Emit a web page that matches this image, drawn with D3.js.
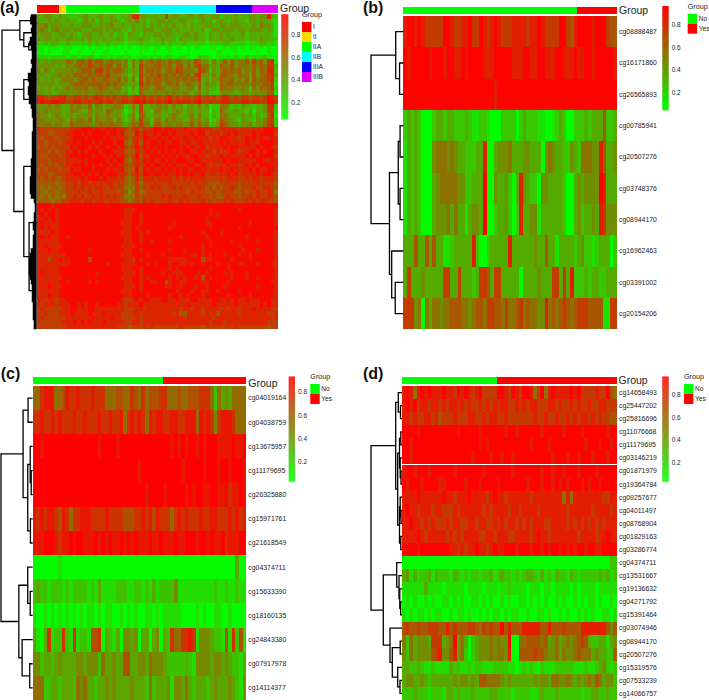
<!DOCTYPE html>
<html>
<head>
<meta charset="utf-8">
<script src="https://cdn.jsdelivr.net/npm/d3@7"></script>
<style>
  html, body { margin: 0; padding: 0; background: #fff; }
  text { font-family: "Liberation Sans", Arial, sans-serif; fill: #222; }
</style>
</head>
<body>
<div id="chart"></div>
<script>
////////////////////////////////////////////////////////////////////////
// Data
//
// Heatmap rows: one char per column, 0 = lowest methylation, 9 = highest.
// A char c stands for the beta value c/10 + 0.05. Spaces are only there
// to make the columns easier to count.

let rowsA = [
  "33443343322 33433343343 23347844334 33734433443 44334423334 33344344832",
  "43343433433 23434243344 32343534233 44343344332 34342343234 33244343321",
  "44534443343 34443343453 34334334243 43434334243 33443344344 43334354431",
  "45434534434 43334443434 43324334443 34443433343 34234434443 44344443431",
  "34443344343 23443343342 33243324334 43443334434 33243343433 34233333321",
  "43443433443 34343334333 43233343323 34333243334 33243343343 33233343332",
  "22323322322 22232322322 22122232222 23232223222 22122223322 22122233221",
  "11011101110 01010110101 01010011101 10110110101 10011001011 01011010100",
  "01010001100 10001001100 00100010001 00010000100 00000110001 00000100100",
  "22212222122 12232122121 22121112121 21221122101 32210111212 11312123111",
  "43434444654 66575664565 54525364565 65465654547 64425346464 55647564781",
  "44444343545 65576565664 64525375556 65564664646 75534365564 55546565773",
  "53543444454 56665775656 65434374665 64565765554 76524356565 64546465882",
  "44334454546 65565665755 54424375565 75656565647 84435366554 65536456783",
  "43434345554 56656556655 64535274656 65655656565 73424465564 54636566782",
  "44444344456 66566665656 55434385656 64565645654 63534365665 55546556671",
  "34343434545 55645565545 53324265545 65445544553 63433265554 45425465672",
  "44343344444 54544554454 43423264445 44545445434 53422244443 34434444661",
  "88767788667 76767876767 67767878676 76786767767 86767678767 67767767987",
  "89889988778 87787787886 78878989787 87897888878 97787788877 78878877998",
  "44454543354 54463543445 54235373344 54535342443 53412255423 24332334782",
  "54544443355 43354443654 43124374325 53434543443 43303264334 33241334772",
  "54434543443 44453544544 43235265334 43345433453 53313255433 34342423681",
  "55444454354 55463544553 53235374425 53545443354 53412365443 24332435772",
  "55554554465 55554565565 54346575536 64554554464 64523476544 34453445782",
  "87777777788 89998988989 88767868789 98998889888 98887788888 78878889998",
  "77766777889 98989999899 89666979889 89989888898 99788878989 88889899997",
  "76777677789 99899998988 88767879988 98898989889 88878899888 78989898898",
  "77677767889 89998989998 99657869899 89889988988 98888898988 88988899998",
  "67676777798 99989899899 89767979898 99899989898 89788889899 88888989987",
  "77767677889 89899989998 88666878989 89898989988 98887878898 78899898998",
  "76677767899 99998998989 89767968899 98989898899 88788898988 88989899997",
  "77767777888 89899999898 99657879898 89898999889 98888889899 88888998898",
  "76767677889 99898989989 88767878989 98989888998 89878788988 78989899988",
  "67677767798 89998999898 89666969898 89898989889 98888898898 88898988998",
  "77766777889 98989898999 88767879989 98988989898 89788788989 78888989987",
  "76767667888 89899989888 78656868887 88887878788 88777787888 77878878887",
  "66666566778 78878787887 77656757778 77787777878 77766677777 67777877776",
  "65656656778 78787887787 77555767787 87778787777 87676767787 67778778876",
  "66566566777 87787787777 67646756777 77777777687 77667677776 67677877875",
  "65656565778 78778787878 77555767777 78787778777 87767667877 67787877876",
  "66665667788 87887887787 76656768787 77787787877 78776778787 77878788776",
  "99998999999 99999999999 99999999999 99999999999 99999999999 99999999999",
  "98989899999 99999999999 99888999999 99999999999 99989999999 89999999998",
  "89899899999 99999999999 99889989999 99999999999 99989899999 99999999998",
  "88989899999 99999999999 99889989999 99999999999 99899999999 99999999998",
  "89888899999 99999999999 98889989999 99998999999 99889999999 99989999998",
  "89898899999 99999999999 99889899999 99989999999 99989999999 89999999999",
  "88889899999 99999999999 98889989899 99999999999 98999989999 99999999998",
  "89898899899 99999999999 99889989999 99999989999 99899999999 99899999998",
  "88888899999 99999999999 99889989989 99989999999 99989999989 99999899998",
  "88988889999 99999999999 98888999999 99999999999 98989999999 89999999998",
  "88898899999 99989999999 99889989999 99989998999 98999999999 98999899998",
  "88888888999 99999999999 98889999899 98999999988 98989998999 89989999998",
  "88868898899 99969999999 99887989999 99988888999 96889999989 99989999998",
  "88888888899 99999999899 98888999898 99989988989 98999899899 88999899988",
  "88888899999 99999999999 98889989999 99989899999 99989999899 99999999998",
  "89888899999 99999899999 99888989999 98998889999 89899998989 99899999998",
  "88888889999 99999999999 98889989899 99989898998 96989999989 99899899998",
  "88888899899 99989899999 99889989988 99689988999 98899999899 99999999988",
  "88898889999 99999999999 99888989999 99889989998 99899998999 99999899998",
  "88888899999 99999999999 98889989999 99999899989 98899899999 89999999998",
  "88898899999 99999999999 99889999899 99989989899 98999999899 99989999998",
  "88788788999 99999999999 98778989988 89988988899 88889988989 88988899988",
  "87888788899 89899899999 88788898888 88888888988 88889888889 88888898988",
  "78777778899 88899888888 88777887888 88888878878 87888878788 78889888877",
  "77877788898 88898889888 87778878888 88887866888 87878688888 78888888778",
  "78777777888 88889888898 87777878888 88888887888 88887888888 88888888878",
  "77777778889 89898889888 88778878888 88888888888 88878887888 88888888777",
  "77777777888 88888888888 77767778787 77777787777 76777777878 77777777677"
];

let rowsB = [
  "8998987777 7998778897 7987898777 8888788987 7779976899 998999766",
  "9899999899 9899889899 9988899999 8889988998 8899888988 998999998",
  "9999999999 9999999999 9999989999 9999999999 9999999999 999999999",
  "2323200023 3233222321 1221000222 2023222110 0123200222 323336223",
  "1323200045 5545433222 3380034445 3334433304 5433224325 554486334",
  "1323200034 5555544223 3390043342 0384322044 3333200343 444498333",
  "1323200034 4453533134 4390023342 0283344133 3333200342 334387444",
  "3336336363 3112333338 2002333338 3333334336 3313333234 221233302",
  "3733343333 3773373332 3776377333 3303333433 3773738222 323322333",
  "7774505355 4556665545 6657766575 5675655448 5656765677 766661177"
];

let rowsC = [
  "5578885568 7787778777 5556655765 7566677555 6556667775 253435555",
  "7787787877 7877877787 7877857878 7587887788 7788858787 478887555",
  "9989999999 9999999989 9998999999 9999999989 8989989899 988889889",
  "9999999999 9999999999 9999999998 9999999999 9899999899 989989998",
  "9999999999 9999999999 9999999999 9899998999 9989899889 988978898",
  "8787887687 5778887777 8777766677 8786877757 8787778778 877787878",
  "8889998788 9899888989 8988989898 8898898889 8899989989 889788899",
  "0000000100 0000000000 0000000000 0000000000 0000000000 000000300",
  "2322122212 1222212131 1112221122 1213122224 1111111111 211211211",
  "1001010101 0101011010 1100101010 0110101111 1000010100 110010000",
  "3103712272 1712216670 3213044340 3303403275 5778714443 221617261",
  "4423323433 3344344425 3343366334 4354443222 2232144443 443432213",
  "5552233233 3254533233 4343333433 3252333414 4353233323 433343214"
];

let rowsD = [
  "8985898988 8988798987 8977779987 9879985795 8988889897 777877965",
  "8989788788 7878878787 7878787887 7878788777 8878778787 787788777",
  "8878778878 6777877788 7787887787 7777778778 7787787878 878787766",
  "9999899999 9999989999 9899999989 9899999989 9999899998 999999899",
  "9989999999 9999999999 9898999999 9999989999 8999999999 899989989",
  "9989999999 9999999998 9999899899 8999999999 9899989989 998999899",
  "8998999899 9999899999 9989999999 8999999989 9899899989 999899999",
  "9899989999 8899999899 9899998999 9999899989 9898989998 989989999",
  "8888988888 8988788898 8887898878 8888878888 8888585888 888887788",
  "8988788878 8777878888 8878788887 8878888788 8888878888 887888878",
  "8898878787 7787887788 7887787878 8787878887 7888878787 878787888",
  "8888987888 8878787888 8778878887 7888878988 7888888878 888788988",
  "9999899999 9998878788 9887898899 9899989989 8998989899 899889999",
  "0000000000 0000000000 0000000000 0000000000 0000000000 000000022",
  "3413122313 2221321212 2122312322 1212332131 2132213212 222232312",
  "1111113111 1011111011 1101110112 1111011101 1011110101 111011111",
  "0101001010 0110101001 1010100101 0011010101 0010100101 011010010",
  "1010110101 1001011010 0101011010 1100100110 1001010010 101001101",
  "6766766777 6686766677 6576766968 6668888866 8666766668 888888646",
  "5253444377 7345935302 3444545449 0055666656 3453454567 632233134",
  "4253444467 8446835202 3444545548 0066667665 4453544565 553433226",
  "3322321121 1113221121 2211122221 1012121021 1122222111 211234212",
  "3443343233 3333434434 3665555434 3333334344 3554454343 454653442",
  "2223222122 2133232223 2222332222 1222211232 2232222221 223322322"
];

// row labels
let labelsB = ["cg08888487","cg16171860","cg26565893","cg00785941","cg20507276",
  "cg03748376","cg08944170","cg16962463","cg03391002","cg20154206"];
let labelsC = ["cg04019164","cg04038759","cg13675957","cg11179695","cg26325880",
  "cg15971761","cg21618549","cg04374711","cg15633390","cg18160135",
  "cg24843380","cg07917978","cg14114377"];
let labelsD = ["cg14658493","cg25447202","cg25816696","cg11076668","cg11179695",
  "cg03146219","cg01871979","cg19364784","cg09257677","cg04011497",
  "cg08768904","cg01829163","cg03286774","cg04374711","cg13531667",
  "cg19136632","cg04271792","cg15391464","cg03074946","cg08944170",
  "cg20507276","cg15319576","cg07533239","cg14066757"];

// column annotation: group names, and how many columns each one spans
let stageNames = ["I","II","IIA","IIB","IIIA","IIIB"];
let stageColors = ["#ff0000","#ffd700","#00ff00","#00ffff","#0000ff","#e000ff"];
let stageCounts = [6,2,20,21,10,7];

let yesNoNames = ["No","Yes"];
let yesNoColors = ["#00ff00","#ff0000"];
let yesNoCountsB = [48,11];
let yesNoCountsC = [36,23];
let yesNoCountsD = [26,33];

// colour bar ticks
let barTicks = [0.2,0.4,0.6,0.8];

// Dendrograms: [merge height, left, right]; a bare number is a leaf (row index).
let treeA = [35,
  [17, [6,0.2,1.6], [13,3.6,[8,6,7.4]]],
  [23,
    [13,14,18.4],
    [13, 33.3, [7.7,45.8,60.9]]]];
let treeB = [32,
  [7.5, 0, [3.7,1,2]],
  [13.7, [5,[3.2,3,4],[3.2,5,6]], [11.5,7,[8,8,9]]]];
let treeC = [32,
  [9.7, [4.7,0,1], [5,[2.5,2,[1.5,3,4]],[2.3,5,6]]],
  [14, [5,7,[2.5,8,9]], [10.7,10,[3,11,12]]]];
let treeD = [31,
  [6.3,
    [3.7,0,[1.5,1,2]],
    [4.3,
      [2.5,[1.2,3,4],[1.8,5,[1,6,7]]],
      [2.5,[1.8,8,[1,9,10]],[1.2,11,12]]]],
  [18.7,
    [5.3,13,[3,14,[2.2,15,[1.3,16,17]]]],
    [12,18,[9.7,[1.8,19,20],[4.3,21,[2,22,23]]]]]];

// Panel (a) has far too many merges close to the heatmap to list. This is the
// depth of that solid black band, one value per heatmap row.
let denseDepthA = [5,6,6,5,6,5,7,8,6,5,5,6,5,6,9,9,8,9,9,8,8,6,5,5,4,4,4,5,5,5,
  5,5,5,6,6,6,6,7,7,7,7,6,3,2,2,3,3,4,4,3,4,4,4,6,7,8,8,8,8,7,6,5,5,5,5,4,4,4,4,3];


////////////////////////////////////////////////////////////////////////
// Global variables for the svg

let width = 709;
let height = 700;

let svg = d3.select("#chart")
  .append("svg")
  .attr("width", width).attr("height", height)
  .style("display", "block");

// expand the counts into one group name per column
function expandGroups(names, counts) {
  let out = [];
  names.forEach(function(n, i) {
    d3.range(counts[i]).forEach(function() { out.push(n); });
  });
  return out;
}

// turn "8 9 7" style strings into rows of beta values
function parseRows(rows) {
  return rows.map(function(r) {
    return r.replace(/ /g, "").split("").map(function(c) { return +c / 10 + 0.05; });
  });
}


////////////////////////////////////////////////////////////////////////
// One heatmap panel

function drawPanel(p) {
  let g = svg.append("g");
  let matrix = parseRows(p.rows);
  let nCols = matrix[0].length;

  let xScale = d3.scaleBand().domain(d3.range(nCols)).range([p.left, p.right]);
  let yScale = d3.scaleBand().domain(d3.range(matrix.length)).range([p.top, p.bottom]);
  // continuous version, the dendrogram leaves can sit between two rows
  let yRow = d3.scaleLinear().domain([0, matrix.length]).range([p.top, p.bottom]);

  let colormap = d3.scaleLinear()
    .domain(p.barDomain)
    .range(["#00ff00", "#ff0000"])
    .interpolate(d3.interpolateRgb)
    .clamp(true);

  // heatmap cells
  g.append("g").selectAll("g")
    .data(matrix)
    .enter()
    .append("g")
    .attr("transform", function(d, i) { return "translate(0," + yScale(i) + ")"; })
    .selectAll("rect")
    .data(function(d) { return d; })
    .enter()
    .append("rect")
    .attr("x", function(d, i) { return xScale(i); })
    .attr("width", xScale.bandwidth())
    .attr("height", yScale.bandwidth())
    .attr("fill", function(d) { return colormap(d); })
    .attr("shape-rendering", "crispEdges");

  // annotation bar on top
  let groups = expandGroups(p.groupNames, p.groupCounts);
  let groupColor = d3.scaleOrdinal(p.groupNames, p.groupColors);
  g.append("g").selectAll("rect")
    .data(groups)
    .enter()
    .append("rect")
    .attr("x", function(d, i) { return xScale(i); })
    .attr("y", p.annTop)
    .attr("width", xScale.bandwidth())
    .attr("height", p.annBottom - p.annTop)
    .attr("fill", function(d) { return groupColor(d); })
    .attr("shape-rendering", "crispEdges");

  g.append("text")
    .attr("x", p.right + p.groupDx)
    .attr("y", p.groupY)
    .style("font-size", "10.5px")
    .text("Group");

  // row labels
  if (p.labels) {
    g.append("g").selectAll("text")
      .data(p.labels)
      .enter()
      .append("text")
      .attr("x", p.right + 2)
      .attr("y", function(d, i) { return yScale(i) + yScale.bandwidth() / 2; })
      .attr("dy", "0.35em")
      .style("font-size", "6.9px")
      .text(function(d) { return d; });
  }

  // dendrogram
  let hScale = d3.scaleLinear().domain([0, p.tree[0]]).range([p.left, p.rootX]);
  let root = d3.hierarchy(p.tree, function(d) {
    return Array.isArray(d) ? d.slice(1) : null;
  });
  root.eachAfter(function(n) {
    if (n.children) {
      n.py = d3.mean(n.children, function(c) { return c.py; });
      n.px = hScale(n.data[0]);
    } else {
      n.py = yRow(n.data + 0.5);
      n.px = p.left;
    }
  });
  let dendro = g.append("g");
  dendro.selectAll("path")
    .data(root.descendants().filter(function(n) { return n.children; }))
    .enter()
    .append("path")
    .attr("fill", "none")
    .attr("stroke", "#000")
    .attr("stroke-width", 1.3)
    .attr("d", function(n) {
      let a = n.children[0], b = n.children[1];
      return "M" + a.px + "," + a.py + "H" + n.px + "V" + b.py + "H" + b.px;
    });

  // solid band of close merges (panel a only)
  if (p.dense) {
    let area = d3.area()
      .y(function(d, i) { return yRow(i); })
      .x0(p.left)
      .x1(function(d) { return hScale(d); })
      .curve(d3.curveStepAfter);
    dendro.append("path")
      .attr("fill", "#000")
      .attr("d", area(p.dense.concat([p.dense[p.dense.length - 1]])));
  }

  // colour bar
  let barY = d3.scaleLinear()
    .domain([p.barDomain[1], p.barDomain[0]])
    .range([p.barTop, p.barBottom]);
  let barSteps = d3.range(p.barTop, p.barBottom, 1);
  g.append("g").selectAll("rect")
    .data(barSteps)
    .enter()
    .append("rect")
    .attr("x", p.barX)
    .attr("y", function(d) { return d; })
    .attr("width", p.barW)
    .attr("height", 1.2)
    .attr("fill", function(d) { return colormap(barY.invert(d + 0.5)); });

  let barAxis = d3.axisRight(barY).tickValues(barTicks).tickSize(0).tickPadding(3)
    .tickFormat(d3.format(".1f"));
  let axisG = g.append("g")
    .attr("transform", "translate(" + (p.barX + p.barW) + ",0)")
    .call(barAxis);
  axisG.select(".domain").remove();
  axisG.selectAll("text")
    .style("font-size", "6.5px")
    .style("font-family", '"Liberation Sans", Arial, sans-serif')
    .attr("fill", "#222");

  // legend
  let legend = g.append("g");
  legend.append("text")
    .attr("x", p.legendX)
    .attr("y", p.legendY - 5)
    .style("font-size", "7.2px")
    .text("Group");
  let swatch = d3.scaleBand().domain(p.groupNames)
    .range([p.legendY, p.legendY + 10 * p.groupNames.length]);
  legend.selectAll("rect")
    .data(p.groupNames)
    .enter()
    .append("rect")
    .attr("x", p.legendX)
    .attr("y", function(d) { return swatch(d); })
    .attr("width", 9.4)
    .attr("height", swatch.bandwidth())
    .attr("fill", function(d) { return groupColor(d); });
  legend.selectAll(".lab")
    .data(p.groupNames)
    .enter()
    .append("text")
    .attr("class", "lab")
    .attr("x", p.legendX + 11)
    .attr("y", function(d) { return swatch(d) + swatch.bandwidth() / 2; })
    .attr("dy", "0.35em")
    .style("font-size", "6.6px")
    .text(function(d) { return d; });

  // panel letter
  g.append("text")
    .attr("x", p.letterX)
    .attr("y", p.letterY)
    .style("font-size", "16px")
    .style("font-weight", "bold")
    .style("fill", "#111")
    .text(p.letter);
}


////////////////////////////////////////////////////////////////////////
// The four panels

drawPanel({
  letter: "(a)", letterX: 0, letterY: 12.7,
  rows: rowsA, tree: treeA, dense: denseDepthA,
  groupNames: stageNames, groupColors: stageColors, groupCounts: stageCounts,
  left: 36.7, right: 278, top: 14.3, bottom: 329.3, rootX: 2,
  annTop: 5.3, annBottom: 12.7, groupDx: 2, groupY: 11.8,
  barX: 281.3, barW: 7, barTop: 14.3, barBottom: 119, barDomain: [0.05, 0.98],
  legendX: 302, legendY: 22
});

drawPanel({
  letter: "(b)", letterX: 363, letterY: 13.3,
  rows: rowsB, tree: treeB, labels: labelsB,
  groupNames: yesNoNames, groupColors: yesNoColors, groupCounts: yesNoCountsB,
  left: 403.3, right: 617, top: 16, bottom: 329.3, rootX: 371,
  annTop: 6.7, annBottom: 14.3, groupDx: 2, groupY: 13.5,
  barX: 662.3, barW: 6.4, barTop: 6, barBottom: 110, barDomain: [0.048, 0.96],
  legendX: 687.7, legendY: 13.7
});

drawPanel({
  letter: "(c)", letterX: 0.7, letterY: 379,
  rows: rowsC, tree: treeC, labels: labelsC,
  groupNames: yesNoNames, groupColors: yesNoColors, groupCounts: yesNoCountsC,
  left: 32.7, right: 246.3, top: 386, bottom: 700, rootX: 1,
  annTop: 377.3, annBottom: 384.3, groupDx: 2, groupY: 386.7,
  barX: 288.7, barW: 6.3, barTop: 376.5, barBottom: 481, barDomain: [0.035, 0.93],
  legendX: 310.3, legendY: 384
});

drawPanel({
  letter: "(d)", letterX: 363, letterY: 379,
  rows: rowsD, tree: treeD, labels: labelsD,
  groupNames: yesNoNames, groupColors: yesNoColors, groupCounts: yesNoCountsD,
  left: 402, right: 617, top: 386, bottom: 700, rootX: 371,
  annTop: 377.3, annBottom: 384.3, groupDx: 1.5, groupY: 384,
  barX: 662.3, barW: 6.4, barTop: 376.5, barBottom: 481, barDomain: [0.035, 0.96],
  legendX: 684, legendY: 384
});
</script>
</body>
</html>
